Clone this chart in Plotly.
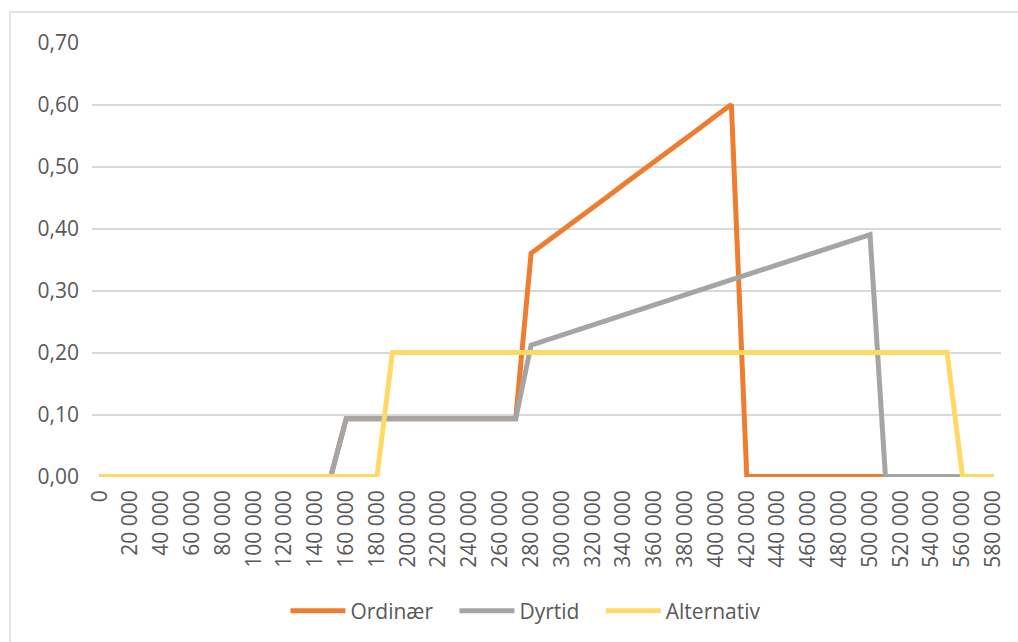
import plotly.graph_objects as go

# Income levels (x categories), every 10 000 from 0 to 580 000
income = [
    0, 10000, 20000, 30000, 40000, 50000, 60000, 70000, 80000, 90000,
    100000, 110000, 120000, 130000, 140000, 150000, 160000, 170000, 180000, 190000,
    200000, 210000, 220000, 230000, 240000, 250000, 260000, 270000, 280000, 290000,
    300000, 310000, 320000, 330000, 340000, 350000, 360000, 370000, 380000, 390000,
    400000, 410000, 420000, 430000, 440000, 450000, 460000, 470000, 480000, 490000,
    500000, 510000, 520000, 530000, 540000, 550000, 560000, 570000, 580000,
]

ordinaer = [
    0, 0, 0, 0, 0, 0, 0, 0, 0, 0,
    0, 0, 0, 0, 0, 0, 0.093, 0.093, 0.093, 0.093,
    0.093, 0.093, 0.093, 0.093, 0.093, 0.093, 0.093, 0.093, 0.360, 0.378,
    0.397, 0.415, 0.434, 0.452, 0.471, 0.489, 0.508, 0.526, 0.545, 0.563,
    0.582, 0.600, 0, 0, 0, 0, 0, 0, 0, 0,
    0, 0, 0, 0, 0, 0, 0, 0, 0,
]

dyrtid = [
    0, 0, 0, 0, 0, 0, 0, 0, 0, 0,
    0, 0, 0, 0, 0, 0, 0.093, 0.093, 0.093, 0.093,
    0.093, 0.093, 0.093, 0.093, 0.093, 0.093, 0.093, 0.093, 0.212, 0.220,
    0.228, 0.236, 0.244, 0.252, 0.261, 0.269, 0.277, 0.285, 0.293, 0.301,
    0.309, 0.317, 0.325, 0.333, 0.341, 0.350, 0.358, 0.366, 0.374, 0.382,
    0.390, 0, 0, 0, 0, 0, 0, 0, 0,
]

alternativ = [
    0, 0, 0, 0, 0, 0, 0, 0, 0, 0,
    0, 0, 0, 0, 0, 0, 0, 0, 0, 0.20,
    0.20, 0.20, 0.20, 0.20, 0.20, 0.20, 0.20, 0.20, 0.20, 0.20,
    0.20, 0.20, 0.20, 0.20, 0.20, 0.20, 0.20, 0.20, 0.20, 0.20,
    0.20, 0.20, 0.20, 0.20, 0.20, 0.20, 0.20, 0.20, 0.20, 0.20,
    0.20, 0.20, 0.20, 0.20, 0.20, 0.20, 0, 0, 0,
]

series = [
    ("Ordinær", ordinaer, "#ED7D31"),
    ("Dyrtid", dyrtid, "#A5A5A5"),
    ("Alternativ", alternativ, "#FFD966"),
]

text_color = "#595959"
grid_color = "#D9D9D9"
legend_pad = "\u00a0\u00a0\u00a0"  # extra room between legend entries

fig = go.Figure()
for name, values, color in series:
    fig.add_trace(go.Scatter(
        x=income, y=values, name=name + legend_pad, mode="lines",
        line=dict(color=color, width=5),
    ))

fig.update_layout(
    width=1018, height=642,
    margin=dict(l=92, r=17, t=42, b=164),
    paper_bgcolor="white", plot_bgcolor="white",
    separators=", ",
    font=dict(family="Open Sans", size=21, color=text_color),
    showlegend=True,
    legend=dict(
        orientation="h", x=0.4856, xanchor="center", y=-0.305, yanchor="middle",
        itemwidth=55, font=dict(size=21, color=text_color),
        traceorder="normal",
    ),
    shapes=[dict(
        type="rect", xref="paper", yref="paper",
        x0=-0.0902, x1=1.2, y0=-0.6, y1=1.0688,
        line=dict(color=grid_color, width=1.5), fillcolor="rgba(0,0,0,0)",
        layer="below",
    )],
)

fig.update_xaxes(
    range=[-5000, 585000], tick0=0, dtick=20000, tickformat=",d",
    tickangle=-90, showgrid=False, zeroline=False, showline=False,
    ticks="", ticklabelstandoff=8, tickfont=dict(size=21, color=text_color),
)
fig.update_yaxes(
    range=[-0.0008, 0.7008], tick0=0, dtick=0.1, tickformat=".2f",
    showgrid=True, gridcolor=grid_color, gridwidth=1.5, zeroline=False,
    showline=False, ticks="", ticklabelstandoff=12,
    tickfont=dict(size=21, color=text_color),
)

fig.write_html("out.html")
